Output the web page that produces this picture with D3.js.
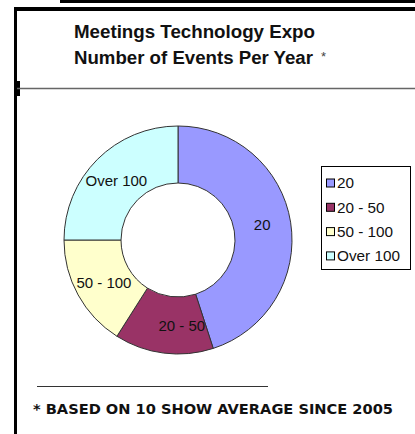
<!DOCTYPE html>
<html>
<head>
<meta charset="utf-8">
<script src="https://cdn.jsdelivr.net/npm/d3@7"></script>
<style>
html,body{margin:0;padding:0;background:#fff;}
svg{display:block;}
</style>
</head>
<body>
<svg id="c" width="415" height="434"></svg>
<script>
const categories = ["20", "20 - 50", "50 - 100", "Over 100"];
const values = [4.5, 1.4, 1.6, 2.5];
const colors = ["#9999FF", "#993366", "#FFFFCC", "#CCFFFF"];
const titleLines = ["Meetings Technology Expo", "Number of Events Per Year"];
const footnote = "* BASED ON 10 SHOW AVERAGE SINCE 2005";

const svg = d3.select("#c");
const sans = "Arial, 'Liberation Sans', sans-serif";

// frame
svg.append("rect").attr("x", 60).attr("y", 0).attr("width", 355).attr("height", 3).attr("fill", "#000");
svg.append("rect").attr("x", 14).attr("y", 7).attr("width", 401).attr("height", 4).attr("fill", "#000");
svg.append("rect").attr("x", 14).attr("y", 7).attr("width", 3).attr("height", 427).attr("fill", "#000");
svg.append("rect").attr("x", 14).attr("y", 81).attr("width", 6).attr("height", 15).attr("fill", "#000");
svg.append("line").attr("x1", 17).attr("x2", 415).attr("y1", 88.5).attr("y2", 88.5)
  .attr("stroke", "#666").attr("stroke-width", 1.5);

// title
const t = svg.append("g").attr("font-family", sans)
  .attr("font-weight", "bold").attr("font-size", 17.5).attr("fill", "#111");
t.append("text").attr("x", 74).attr("y", 38).attr("textLength", 241).attr("lengthAdjust", "spacingAndGlyphs").text(titleLines[0]);
t.append("text").attr("x", 74).attr("y", 64).attr("textLength", 239).attr("lengthAdjust", "spacingAndGlyphs").text(titleLines[1]);
svg.append("text").attr("x", 321).attr("y", 61)
  .attr("font-family", sans).attr("font-size", 13)
  .attr("fill", "#444").text("*");

// donut
const cx = 178, cy = 240, rO = 114, rI = 57;
const pie = d3.pie().sort(null).value(d => d);
const arcs = pie(values);
const arc = d3.arc().innerRadius(rI).outerRadius(rO);
const g = svg.append("g").attr("transform", `translate(${cx},${cy})`);
g.selectAll("path").data(arcs).enter().append("path")
  .attr("d", arc)
  .attr("fill", (d, i) => colors[i])
  .attr("stroke", "#333").attr("stroke-width", 1);

const labelArc = d3.arc().innerRadius((rI + rO) / 2).outerRadius((rI + rO) / 2);
g.selectAll("text.lbl").data(arcs).enter().append("text")
  .attr("class", "lbl")
  .attr("transform", d => {
    // Excel nudges the small bottom label slightly clockwise-back
    const a = (d.startAngle + d.endAngle) / 2 - (d.index === 1 ? 0.17 : 0.02);
    const r = (rI + rO) / 2;
    return `translate(${r * Math.sin(a)},${-r * Math.cos(a)})`;
  })
  .attr("text-anchor", "middle").attr("dy", "0.35em")
  .attr("font-family", sans).attr("font-size", 15)
  .attr("fill", "#111")
  .text((d, i) => categories[i]);

// legend
const lg = svg.append("g");
lg.append("rect").attr("x", 321.5).attr("y", 166.5).attr("width", 89).attr("height", 103)
  .attr("fill", "#fff").attr("stroke", "#000").attr("stroke-width", 1);
const y0 = 183, dy = 24.3;
categories.forEach((c, i) => {
  lg.append("rect").attr("x", 326.5).attr("y", y0 + i * dy - 4).attr("width", 8).attr("height", 8)
    .attr("fill", colors[i]).attr("stroke", "#000").attr("stroke-width", 1);
  lg.append("text").attr("x", 337).attr("y", y0 + i * dy).attr("dy", "0.35em")
    .attr("font-family", sans).attr("font-size", 15.3)
    .attr("fill", "#111").text(c);
});

// footnote
svg.append("line").attr("x1", 37).attr("x2", 268).attr("y1", 386.5).attr("y2", 386.5)
  .attr("stroke", "#333").attr("stroke-width", 1.2);
svg.append("text").attr("x", 33).attr("y", 414)
  .attr("font-family", "'DejaVu Sans', Verdana, sans-serif").attr("font-weight", "bold")
  .attr("font-size", 14).attr("textLength", 360).attr("lengthAdjust", "spacingAndGlyphs")
  .attr("fill", "#111").text(footnote);
</script>
</body>
</html>
